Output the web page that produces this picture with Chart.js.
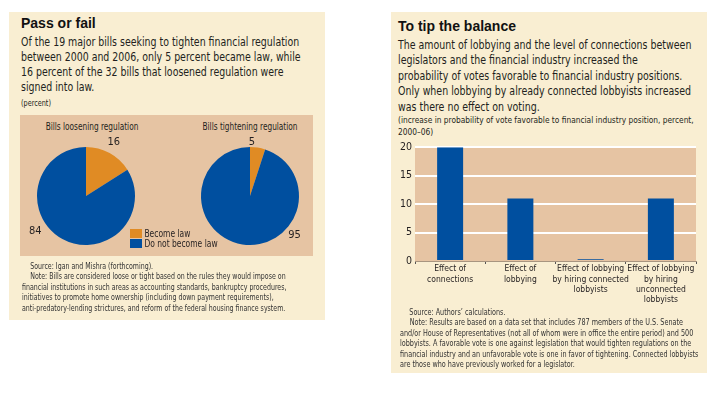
<!DOCTYPE html>
<html>
<head>
<meta charset="utf-8">
<script src="https://cdn.jsdelivr.net/npm/chart.js@4.4.1/dist/chart.umd.min.js"></script>
<style>
body { margin: 0; width: 714px; height: 393px; overflow: hidden; position: relative; background: #fff;
  font-family: "DejaVu Sans Condensed", "Liberation Sans", sans-serif; color: #231f20; }
.abs { position: absolute; white-space: nowrap; transform-origin: left top; }
.panel { position: absolute; background: #f9eed2; }
.title { font-family: "Liberation Sans", Arial, sans-serif; font-weight: bold; font-size: 14px; line-height: 16px; color: #111; }
.note { font-size: 8.5px; line-height: 10.6px; color: #333; }
.ind { display: inline-block; width: 10px; }
.swatch { display: inline-block; width: 15px; height: 9px; vertical-align: -1px; margin-right: 3px; }
.centro { transform-origin: center top; }
canvas { position: absolute; }
</style>
</head>
<body>

<div class="panel" style="left:9px;top:12px;width:316px;height:308px"></div>
<div class="panel" style="left:391px;top:12px;width:316px;height:361px"></div>
<div class="abs" style="left:20px;top:115px;width:293px;height:141px;background:#e6c4a3"></div>

<div class="abs title" style="left:21px;top:15px">Pass or fail</div>
<div class="abs" style="left:21px;top:35px;font-size:12.5px;line-height:14.9px;transform:scaleX(0.837)">
Of the 19 major bills seeking to tighten financial regulation<br>
between 2000 and 2006, only 5 percent became law, while<br>
16 percent of the 32 bills that loosened regulation were<br>
signed into law.</div>
<div class="abs" style="left:21px;top:98px;font-size:8.5px;line-height:10px;transform:scaleX(0.85)">(percent)</div>

<div class="abs centro" style="left:92px;top:121px;font-size:10px;line-height:12px;transform:translateX(-50%) scaleX(0.82)">Bills loosening regulation</div>
<div class="abs centro" style="left:250px;top:121px;font-size:10px;line-height:12px;transform:translateX(-50%) scaleX(0.82)">Bills tightening regulation</div>

<canvas id="pie-loose" width="130" height="130" style="left:21px;top:131px"></canvas>
<canvas id="pie-tight" width="130" height="130" style="left:185px;top:131px"></canvas>
<div id="legenda" class="abs" style="left:130px;top:228px;font-size:10.5px;line-height:10.3px;transform:scaleX(0.8)"></div>

<div class="abs note" style="left:21.5px;top:260.5px;transform:scaleX(0.82)">
<span class="ind"></span>Source: Igan and Mishra (forthcoming).<br>
<span class="ind"></span>Note: Bills are considered loose or tight based on the rules they would impose on<br>
financial institutions in such areas as accounting standards, bankruptcy procedures,<br>
initiatives to promote home ownership (including down payment requirements),<br>
anti-predatory-lending strictures, and reform of the federal housing finance system.</div>

<div class="abs title" style="left:398px;top:18px">To tip the balance</div>
<div class="abs" style="left:398px;top:37px;font-size:12.5px;line-height:15.4px;transform:scaleX(0.84)">
The amount of lobbying and the level of connections between<br>
legislators and the financial industry increased the<br>
probability of votes favorable to financial industry positions.<br>
Only when lobbying by already connected lobbyists increased<br>
was there no effect on voting.</div>
<div class="abs" style="left:398px;top:114px;font-size:9.5px;line-height:11.7px;transform:scaleX(0.872)">
(increase in probability of vote favorable to financial industry position, percent,<br>
2000–06)</div>

<canvas id="grafico-barras" width="316" height="170" style="left:391px;top:138px"></canvas>

<div class="abs note" style="left:400px;top:306.5px;line-height:10.5px;transform:scaleX(0.845)">
<span class="ind" style="width:11px"></span>Source: Authors’ calculations.<br>
<span class="ind" style="width:11.5px"></span>Note: Results are based on a data set that includes 787 members of the U.S. Senate<br>
and/or House of Representatives (not all of whom were in office the entire period) and 500<br>
lobbyists. A favorable vote is one against legislation that would tighten regulations on the<br>
financial industry and an unfavorable vote is one in favor of tightening. Connected lobbyists<br>
are those who have previously worked for a legislator.</div>

<script>
// Dados
const pieCategories = ['Become law', 'Do not become law']
const looseningValues = [16, 84]
const tighteningValues = [5, 95]

const barCategories = [
    ['Effect of', 'connections'],
    ['Effect of', 'lobbying'],
    ['Effect of lobbying', 'by hiring connected', 'lobbyists'],
    ['Effect of lobbying', 'by hiring', 'unconnected', 'lobbyists']
]
const barValues = [20, 11, 0.3, 11]
const yTicks = [0, 5, 10, 15, 20]

const laranja = '#e08b24'
const azul = '#004f9f'
const fonte = '"DejaVu Sans Condensed", "Liberation Sans", sans-serif'

Chart.defaults.font.family = fonte
Chart.defaults.color = '#231f20'

// Rótulos das fatias (ângulo a partir do topo, sentido horário)
const rotulosPizza = {
    id: 'rotulosPizza',
    afterDatasetsDraw(chart, args, opts) {
        const ctx = chart.ctx
        const meta = chart.getDatasetMeta(0)
        ctx.save()
        ctx.font = '11px ' + fonte
        ctx.fillStyle = '#231f20'
        ctx.textAlign = 'center'
        ctx.textBaseline = 'middle'
        meta.data.forEach((arc, i) => {
            const a = (opts.angles[i] - 90) * Math.PI / 180
            const r = arc.outerRadius + opts.offsets[i]
            ctx.fillText(chart.data.datasets[0].data[i], arc.x + Math.cos(a) * r, arc.y + Math.sin(a) * r)
        })
        ctx.restore()
    }
}

function criaPizza(id, valores, angles, offsets) {
    return new Chart(document.getElementById(id), {
        type: 'pie',
        data: {
            labels: pieCategories,
            datasets: [{
                data: valores,
                backgroundColor: [laranja, azul],
                borderWidth: 0
            }]
        },
        plugins: [rotulosPizza],
        options: {
            responsive: false,
            animation: false,
            devicePixelRatio: 1,
            layout: { padding: 16 },
            plugins: {
                legend: { display: false },
                tooltip: { enabled: false },
                rotulosPizza: { angles: angles, offsets: offsets }
            }
        }
    })
}

criaPizza('pie-loose', looseningValues, [27, 235], [12, 13])
criaPizza('pie-tight', tighteningValues, [2, 131], [5, 10])

// Legenda
document.getElementById('legenda').innerHTML = pieCategories.map((c, i) =>
    '<div><span class="swatch" style="background:' + [laranja, azul][i] + '"></span>' + c + '</div>'
).join('')

// Fundo da área do gráfico
const fundoArea = {
    id: 'fundoArea',
    beforeDraw(chart) {
        const a = chart.chartArea
        chart.ctx.save()
        chart.ctx.fillStyle = '#e6c4a3'
        chart.ctx.fillRect(a.left, a.top, a.right - a.left, a.bottom - a.top)
        chart.ctx.restore()
    }
}

new Chart(document.getElementById('grafico-barras'), {
    type: 'bar',
    data: {
        labels: barCategories,
        datasets: [{
            data: barValues,
            backgroundColor: azul,
            barPercentage: 0.37,
            categoryPercentage: 1
        }]
    },
    plugins: [fundoArea],
    options: {
        responsive: false,
        animation: false,
        devicePixelRatio: 1,
        layout: { padding: { top: 9, right: 11, left: 0, bottom: 0 } },
        plugins: { legend: { display: false }, tooltip: { enabled: false } },
        scales: {
            x: {
                afterFit: s => { s.height = 47 },
                grid: { drawOnChartArea: false, drawTicks: true, tickLength: 3, color: '#555', offset: true },
                border: { display: true, color: '#a89580' },
                ticks: { font: { size: 8.5, lineHeight: 1.22 }, color: '#231f20', maxRotation: 0, autoSkip: false, padding: 0 }
            },
            y: {
                min: 0,
                max: 20,
                afterFit: s => { s.width = 24 },
                afterBuildTicks: s => { s.ticks = yTicks.map(v => ({ value: v })) },
                grid: { color: c => c.tick.value === 0 ? 'rgba(0,0,0,0)' : '#fff', lineWidth: 2, drawTicks: false },
                border: { display: false },
                ticks: { font: { size: 10.5 }, color: '#231f20', padding: 3 }
            }
        }
    }
})
</script>
</body>
</html>
